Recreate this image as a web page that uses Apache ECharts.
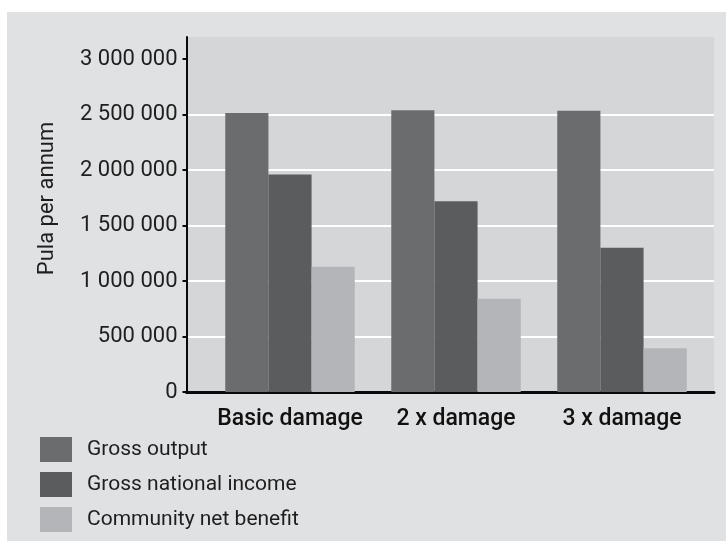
<!DOCTYPE html>
<html>
<head>
<meta charset="utf-8">
<style>
  html, body { margin: 0; padding: 0; background: #ffffff; }
  #chart { width: 726px; height: 541px; }
</style>
<script src="https://cdn.jsdelivr.net/npm/echarts@6/dist/echarts.min.js"></script>
</head>
<body>
<div id="chart"></div>
<script>
// Scenario categories and annual values (Pula)
const categories = ['Basic damage', '2 x damage', '3 x damage'];
const grossOutput = [2515000, 2540000, 2535000];
const grossNationalIncome = [1960000, 1720000, 1300000];
const communityNetBenefit = [1130000, 840000, 395000];
const yTicks = [0, 500000, 1000000, 1500000, 2000000, 2500000, 3000000];
const seriesNames = ['Gross output', 'Gross national income', 'Community net benefit'];

const FONT = "Roboto, 'Liberation Sans', sans-serif";
const colors = ['#6b6c6e', '#5b5c5e', '#b4b5b8'];

// Group thousands with spaces: 2500000 -> "2 500 000"
function spaced(v) {
  return String(v).replace(/\B(?=(\d{3})+(?!\d))/g, ' ');
}

const chart = echarts.init(document.getElementById('chart'), null, { renderer: 'canvas' });

const yMax = 3200000;

chart.setOption({
  backgroundColor: '#ffffff',
  animation: false,
  color: colors,
  graphic: [{
    type: 'rect',
    z: -10,
    silent: true,
    shape: { x: 7, y: 12, width: 719, height: 529 },
    style: { fill: '#e0e1e3' }
  }],
  grid: [
    { // frame: background, gridlines, axes
      left: 186.5, right: 12, top: 37, bottom: 149,
      show: true, backgroundColor: '#d5d6d8', borderWidth: 0
    },
    { // bar area
      left: 207, right: 21, top: 37, bottom: 149
    }
  ],
  legend: {
    orient: 'vertical',
    left: 40,
    top: 437,
    height: 104,
    itemWidth: 32,
    itemHeight: 25,
    itemGap: 10,
    padding: 0,
    icon: 'rect',
    data: seriesNames,
    textStyle: { fontFamily: FONT, fontSize: 21, lineHeight: 25, color: '#1e1e1e', padding: [0, 0, 0, 10] }
  },
  xAxis: [
    {
      gridIndex: 0,
      type: 'category',
      data: categories,
      axisLine: { show: true, lineStyle: { color: '#0a0a0a', width: 3 } },
      axisTick: { show: false },
      axisLabel: { show: false },
      splitLine: { show: false }
    },
    {
      gridIndex: 1,
      type: 'category',
      data: categories,
      axisLine: { show: false },
      axisTick: { show: false },
      axisLabel: {
        interval: 0,
        margin: 16,
        fontFamily: FONT,
        fontSize: 23,
        fontWeight: 500,
        color: '#111111'
      }
    }
  ],
  yAxis: [
    {
      gridIndex: 0,
      type: 'value',
      min: 0,
      max: yMax,
      interval: 500000,
      name: 'Pula per annum',
      nameLocation: 'middle',
      nameGap: 128,
      nameTextStyle: { fontFamily: FONT, fontSize: 22, color: '#1e1e1e', padding: [0, 0, 0, 32] },
      axisLine: { show: true, lineStyle: { color: '#0a0a0a', width: 2 } },
      axisTick: { show: true, length: 4, customValues: yTicks, lineStyle: { color: '#0a0a0a', width: 2 } },
      axisLabel: {
        customValues: yTicks,
        margin: 9,
        fontFamily: FONT,
        fontSize: 22,
        color: '#1e1e1e',
        formatter: spaced
      },
      splitLine: { show: true, showMaxLine: false, lineStyle: { color: '#ffffff', width: 2 } }
    },
    {
      gridIndex: 1,
      type: 'value',
      min: 0,
      max: yMax,
      show: false,
      splitLine: { show: false }
    }
  ],
  series: [
    { name: seriesNames[0], type: 'bar', xAxisIndex: 1, yAxisIndex: 1, data: grossOutput, barGap: '0%', barCategoryGap: '22%' },
    { name: seriesNames[1], type: 'bar', xAxisIndex: 1, yAxisIndex: 1, data: grossNationalIncome, barGap: '0%', barCategoryGap: '22%' },
    { name: seriesNames[2], type: 'bar', xAxisIndex: 1, yAxisIndex: 1, data: communityNetBenefit, barGap: '0%', barCategoryGap: '22%' }
  ]
});
</script>
</body>
</html>
